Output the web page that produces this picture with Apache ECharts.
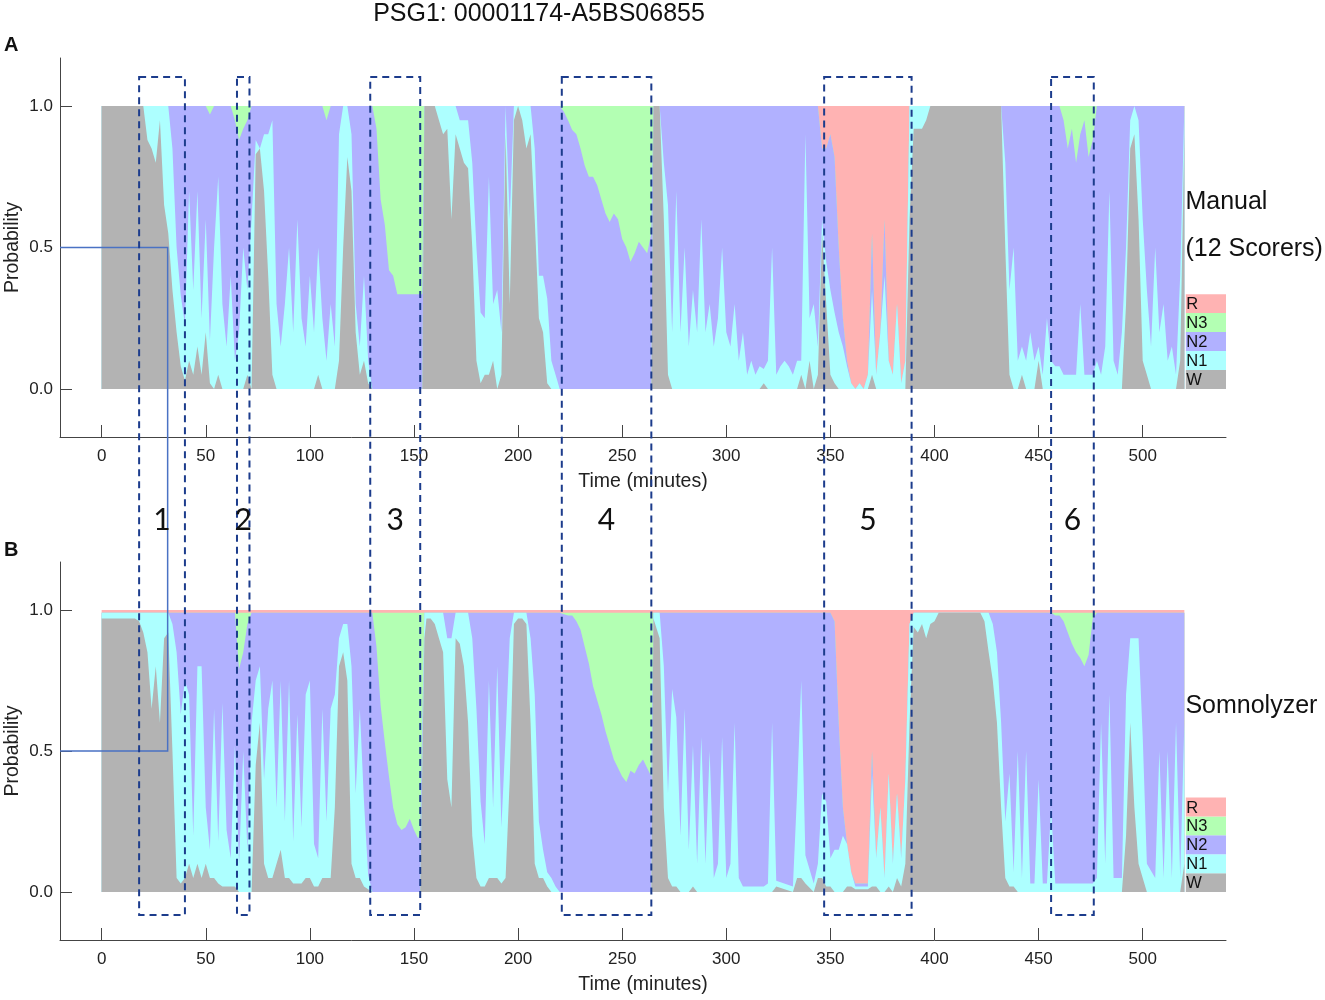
<!DOCTYPE html>
<html>
<head>
<meta charset="utf-8">
<title>PSG1 hypnodensity</title>
<script src="https://cdn.jsdelivr.net/npm/echarts@6/dist/echarts.min.js"></script>
<style>
  html, body { margin: 0; padding: 0; background: #fff; }
  #chart { width: 1325px; height: 1000px; }
</style>
</head>
<body>
<div id="chart"></div>
<script>
var font = 'Liberation Sans, Arial, sans-serif';

// sleep stages, bottom to top of the stack
var stages = ['W', 'N1', 'N2', 'N3', 'R'];
var stageColors = ['#b3b3b3', '#adffff', '#b1b1ff', '#b3ffb3', '#ffb3b3'];

var timeTicks = [0, 50, 100, 150, 200, 250, 300, 350, 400, 450, 500];
var probTicks = [0, 0.5, 1];

// ---- A: manual scoring (12 scorers), probability per stage ----
var timesA = [
  0,20,22,24,26,28,30,32,34,36,
  38,40,42,44,46,48,50,52,54,56,
  58,60,62,64,66,68,70,72,74,76,
  78,80,82,84,86,88,90,92,94,96,
  98,100,102,104,106,108,110,112,114,116,
  118,120,122,124,126,128,130,132,134,136,
  138,140,142,154,155,160,162,164,166,168,
  170,172,174,176,178,180,182,184,186,188,
  190,192,194,196,198,200,202,204,206,208,
  210,212,214,216,218,220,222,224,226,228,
  230,232,234,236,238,240,242,244,246,248,
  250,252,254,256,258,260,262,264,265,268,
  270,272,274,276,278,280,282,284,286,288,
  290,292,294,296,298,300,302,304,306,308,
  310,312,314,316,318,320,322,324,326,328,
  330,332,334,336,338,340,342,344,346,348,
  350,352,354,356,358,360,362,364,366,368,
  370,372,374,376,378,380,382,384,386,388,
  390,394,396,398,432,434,436,438,440,442,
  444,446,448,450,452,454,456,458,460,462,
  464,466,468,470,472,474,476,478,480,482,
  484,486,488,490,492,494,496,498,500,502,
  504,506,508,510,512,514,516,518,520
];
var wA = [
  1,1,.88,.85,.8,.95,.65,.55,.35,.2,
  .08,.03,.1,.05,.15,.05,.2,.02,0,.05,
  0,0,0,0,0,0,.05,0,.83,.85,
  .7,.4,.05,0,0,0,0,0,0,0,
  0,0,0,.05,0,0,0,0,.1,.5,
  .82,.7,.2,.05,.1,.02,0,0,0,0,
  0,0,0,0,1,1,.95,.9,.92,.6,
  .9,.85,.8,.78,.5,.1,.02,.05,.05,.1,
  0,.05,.9,.3,.95,1,.95,.85,.9,.6,
  .25,.2,.02,0,0,0,0,0,0,0,
  0,0,0,0,0,0,0,0,0,0,
  0,0,0,0,0,0,0,0,1,1,
  .6,.05,0,0,0,0,0,0,0,0,
  0,0,0,0,0,0,0,0,0,0,
  0,0,0,0,.02,0,0,0,0,0,
  0,0,0,.05,0,.1,0,.05,.55,.3,
  .05,.02,0,0,0,0,0,0,0,0,
  .05,0,0,0,0,0,0,0,0,.6,
  .92,.92,.95,1,1,.5,.05,0,0,.05,
  0,0,0,.1,0,0,0,0,0,0,
  0,0,0,0,0,0,0,0,0,0,
  0,0,0,0,.3,.85,.9,.6,.1,.05,
  0,0,0,0,0,0,0,.1,.9
];
var n1A = [
  0,0,.12,.15,.2,.05,.35,.45,.5,.3,
  .25,.2,.6,.3,.55,.2,.4,.15,.5,.7,
  .3,.15,.4,.1,.2,.5,.3,.6,.05,0,
  .2,.5,.9,.3,.15,.3,.5,.2,.6,.25,
  .15,.4,.2,.45,.25,.1,.3,.15,.8,.5,
  .18,.2,.1,.1,.3,.08,0,0,0,0,
  0,0,0,0,0,0,.05,.1,.08,.4,
  .1,.1,.15,.17,.3,.4,.25,.2,.7,.2,
  .35,.15,.1,.3,.05,0,.05,.15,.1,.25,
  .15,.2,.3,.1,.05,0,0,0,0,0,
  0,0,0,0,0,0,0,0,0,0,
  0,0,0,0,0,0,0,0,0,0,
  .2,.6,.2,.7,.2,.5,.15,.35,.2,.6,
  .2,.3,.15,.25,.5,.2,.15,.3,.1,.2,
  .05,.1,.05,.08,.05,.1,.5,.05,.08,.1,
  .08,.05,.1,.05,.9,.15,.3,.1,.05,.15,
  .3,.25,.2,.15,.08,.02,0,.02,0,.05,
  .3,.05,.2,.4,.1,.05,.3,.02,.1,.4,
  .08,.08,.05,0,0,.3,.3,.5,.1,.1,
  .1,.2,.1,.05,.05,.25,.1,.08,.08,.05,
  .05,.05,.05,.3,.05,.05,.05,.1,.05,.15,
  .7,.1,.05,.2,.2,.1,.1,.35,.5,.3,
  .15,.5,.2,.3,.1,.15,.05,.3,.1
];
var n2A = [
  0,0,0,0,0,0,0,0,.15,.5,
  .67,.77,.3,.65,.3,.75,.4,.8,.5,.25,
  .7,.85,.6,.85,.68,.42,.6,.4,.12,.15,
  .1,.1,.05,.7,.85,.7,.5,.8,.4,.75,
  .85,.6,.8,.5,.75,.85,.7,.85,.1,0,
  0,.1,.7,.85,.6,.9,1,.92,.67,.58,
  .42,.4,.335,.335,0,0,0,0,0,0,
  0,.05,.05,.05,.2,.5,.73,.75,.25,.7,
  .65,.8,0,.4,0,0,0,0,0,.15,
  .6,.6,.68,.9,.95,1,.98,.95,.915,.9,
  .85,.79,.75,.75,.72,.67,.62,.59,.62,.6,
  .53,.5,.45,.48,.52,.5,.48,.55,0,0,
  .2,.35,.8,.3,.8,.5,.85,.65,.8,.4,
  .8,.7,.85,.75,.5,.8,.85,.7,.9,.8,
  .95,.9,.95,.92,.93,.9,.5,.95,.92,.9,
  .92,.95,.9,.9,.1,.75,.7,.85,.25,.4,
  .55,.55,.3,.1,.02,0,0,0,0,0,
  .2,0,0,.2,0,0,0,0,0,0,
  0,0,0,0,0,.2,.65,.5,.9,.85,
  .9,.8,.9,.85,.95,.75,.9,.92,.92,.9,
  .8,.87,.75,.6,.9,.77,.83,.9,.95,.85,
  .3,.9,.95,.8,.5,.05,0,.05,.4,.65,
  .85,.5,.8,.7,.9,.85,.95,.6,0
];
var n3A = [
  0,0,0,0,0,0,0,0,0,0,
  0,0,0,0,0,0,0,.03,0,0,
  0,0,0,.05,.12,.08,.05,0,0,0,
  0,0,0,0,0,0,0,0,0,0,
  0,0,0,0,0,.05,0,0,0,0,
  0,0,0,0,0,0,0,.08,.33,.42,
  .58,.6,.665,.665,0,0,0,0,0,0,
  0,0,0,0,0,0,0,0,0,0,
  0,0,0,0,0,0,0,0,0,0,
  0,0,0,0,0,0,.02,.05,.085,.1,
  .15,.21,.25,.25,.28,.33,.38,.41,.38,.4,
  .47,.5,.55,.52,.48,.5,.52,.45,0,0,
  0,0,0,0,0,0,0,0,0,0,
  0,0,0,0,0,0,0,0,0,0,
  0,0,0,0,0,0,0,0,0,0,
  0,0,0,0,0,0,0,0,0,0,
  0,0,0,0,0,0,0,0,0,0,
  0,0,0,0,0,0,0,0,0,0,
  0,0,0,0,0,0,0,0,0,0,
  0,0,0,0,0,0,0,0,0,.05,
  .15,.08,.2,.1,.05,.18,.12,0,0,0,
  0,0,0,0,0,0,0,0,0,0,
  0,0,0,0,0,0,0,0,0
];
var rA = [
  0,0,0,0,0,0,0,0,0,0,
  0,0,0,0,0,0,0,0,0,0,
  0,0,0,0,0,0,0,0,0,0,
  0,0,0,0,0,0,0,0,0,0,
  0,0,0,0,0,0,0,0,0,0,
  0,0,0,0,0,0,0,0,0,0,
  0,0,0,0,0,0,0,0,0,0,
  0,0,0,0,0,0,0,0,0,0,
  0,0,0,0,0,0,0,0,0,0,
  0,0,0,0,0,0,0,0,0,0,
  0,0,0,0,0,0,0,0,0,0,
  0,0,0,0,0,0,0,0,0,0,
  0,0,0,0,0,0,0,0,0,0,
  0,0,0,0,0,0,0,0,0,0,
  0,0,0,0,0,0,0,0,0,0,
  0,0,0,0,0,0,0,0,.15,.15,
  .1,.18,.5,.75,.9,.98,1,.98,1,.95,
  .45,.95,.8,.4,.9,.95,.7,.98,.9,0,
  0,0,0,0,0,0,0,0,0,0,
  0,0,0,0,0,0,0,0,0,0,
  0,0,0,0,0,0,0,0,0,0,
  0,0,0,0,0,0,0,0,0,0,
  0,0,0,0,0,0,0,0,0
];

// ---- B: Somnolyzer, probability per stage ----
var timesB = [
  0,16,18,20,22,24,26,28,30,32,
  34,36,38,40,42,44,46,48,50,52,
  54,56,58,60,62,64,66,68,70,72,
  74,76,78,80,82,84,86,88,90,92,
  94,96,98,100,102,104,106,108,110,112,
  114,116,118,120,122,124,126,128,130,132,
  134,136,138,140,142,144,146,148,150,152,
  153,155,156,158,160,162,164,166,168,170,
  172,174,176,178,180,182,184,186,188,190,
  192,194,196,198,200,202,204,206,208,210,
  212,214,216,218,220,222,224,226,228,230,
  232,234,236,238,240,242,244,246,248,250,
  252,254,256,258,260,262,264,265,268,270,
  272,274,276,278,280,282,284,286,288,290,
  292,294,296,298,300,302,304,306,308,318,
  320,322,324,332,334,336,338,342,344,346,
  348,350,352,354,356,358,360,362,368,370,
  372,374,376,378,380,382,384,386,388,390,
  392,394,396,398,400,402,422,424,426,428,
  430,432,434,436,438,440,442,444,446,448,
  450,452,454,456,458,460,462,464,466,468,
  470,472,474,476,478,480,482,484,486,490,
  492,494,496,498,500,502,506,508,510,512,
  514,516,518,520
];
var wB = [
  .97,.97,.96,.92,.85,.65,.8,.6,.9,.92,
  .5,.05,.03,.05,.1,.05,.1,.05,.1,.05,
  .05,.03,.02,.02,.02,.02,0,0,0,0,
  .45,.6,.1,.05,.05,.1,.15,.05,.05,.03,
  .03,.03,.05,.05,.02,.02,.05,.05,.05,.3,
  .8,.85,.75,.1,.05,.05,.02,.01,0,0,
  0,0,0,0,0,0,0,0,0,0,
  0,.9,.97,.97,.95,.9,.85,.4,.3,.9,
  .88,.8,.6,.2,.05,.02,.02,.05,.05,.05,
  .03,.05,.4,.95,.97,.97,.95,.6,.1,.05,
  .05,.02,0,0,0,0,0,0,0,0,
  0,0,0,0,0,0,0,0,0,0,
  0,0,0,0,0,0,0,.97,.9,.3,
  .05,.02,.02,0,0,0,.02,0,0,0,
  0,0,0,0,0,0,0,0,0,0,
  0,0,.02,0,.05,.05,.03,0,.05,.05,
  .02,.02,0,0,0,.02,.02,.01,.01,.02,
  .02,0,0,.02,0,.05,.02,.1,.6,.94,
  .92,.95,.9,.95,.96,.99,.99,.96,.85,.75,
  .6,.3,.05,.02,.02,0,0,0,0,0,
  0,0,0,0,0,0,0,0,0,0,
  0,0,0,0,0,0,0,0,0,0,
  .2,.6,.3,.1,.05,0,0,0,0,0,
  0,0,0,.1
];
var n1B = [
  .02,.02,.03,.07,.14,.34,.19,.39,.09,.07,
  .45,.8,.6,.7,.6,.15,.7,.75,.2,.1,
  .6,.15,.65,.2,.1,.5,.1,.5,.15,.6,
  .3,.2,.3,.6,.7,.2,.6,.2,.7,.15,
  .6,.2,.65,.7,.15,.1,.6,.2,.6,.4,
  .1,.1,.2,.7,.3,.6,.3,.05,0,0,
  0,0,0,0,0,0,0,0,0,0,
  0,.09,.02,.02,.04,.09,.14,.5,.6,.09,
  .11,.19,.39,.7,.6,.3,.15,.7,.25,.75,
  .2,.5,.5,.04,.02,.02,.04,.3,.6,.2,
  .1,.05,.05,.02,0,0,0,0,0,0,
  0,0,0,0,0,0,0,0,0,0,
  0,0,0,0,0,0,0,.02,.09,.5,
  .3,.7,.6,.2,.65,.15,.5,.1,.55,.1,
  .5,.05,.1,.55,.05,.1,.6,.05,.02,.02,
  .03,.6,.02,.02,.3,.7,.1,.03,.05,.3,
  .3,.1,.15,.15,.2,.15,.05,.01,.01,.4,
  .1,.3,.05,.4,.1,.3,.1,.3,.35,.05,
  .07,.04,.09,.04,.03,0,0,.03,.14,.2,
  .25,.3,.2,.4,.05,.5,.05,.5,.03,.03,
  .4,.03,.03,.3,.03,.03,.03,.03,.03,.03,
  .03,.03,.03,.03,.05,.6,.1,.7,.05,.05,
  .5,.3,.6,.8,.5,.1,.05,.5,.05,.5,
  .05,.6,.05,.5
];
var n2B = [
  0,0,0,0,0,0,0,0,0,0,
  .04,.14,.36,.24,.29,.79,.19,.19,.69,.84,
  .34,.81,.32,.77,.87,.47,.69,.35,.8,.39,
  .24,.19,.59,.34,.24,.69,.24,.74,.24,.81,
  .36,.76,.29,.24,.82,.87,.34,.74,.34,.29,
  .09,.04,.04,.19,.64,.34,.67,.93,.99,.87,
  .66,.53,.41,.3,.24,.22,.23,.26,.22,.19,
  .21,0,0,0,0,0,0,.09,.09,0,
  0,0,0,.09,.34,.67,.82,.24,.69,.19,
  .76,.44,.09,0,0,0,0,.09,.29,.74,
  .84,.92,.94,.97,.99,.985,.98,.98,.96,.93,
  .87,.81,.73,.68,.63,.57,.52,.47,.44,.41,
  .39,.43,.42,.45,.47,.44,.41,0,0,.19,
  .64,.27,.37,.79,.34,.84,.47,.89,.44,.89,
  .49,.94,.89,.44,.94,.89,.39,.94,.97,.97,
  .96,.39,.95,.97,.64,.24,.86,.96,.89,.64,
  .67,.87,.81,.45,.1,0,0,.01,.01,.08,
  0,0,0,0,0,0,0,0,0,0,
  0,0,0,0,0,0,0,0,0,.04,
  .14,.39,.74,.57,.92,.49,.94,.49,.96,.96,
  .59,.96,.96,.69,.95,.95,.93,.89,.85,.82,
  .8,.77,.81,.94,.94,.39,.89,.29,.94,.94,
  .29,.09,.09,.09,.44,.89,.94,.49,.94,.49,
  .94,.39,.94,.39
];
var n3B = [
  0,0,0,0,0,0,0,0,0,0,
  0,0,0,0,0,0,0,0,0,0,
  0,0,0,0,0,0,.2,.14,.04,0,
  0,0,0,0,0,0,0,0,0,0,
  0,0,0,0,0,0,0,0,0,0,
  0,0,0,0,0,0,0,0,0,.12,
  .33,.46,.58,.69,.75,.77,.76,.73,.77,.8,
  .78,0,0,0,0,0,0,0,0,0,
  0,0,0,0,0,0,0,0,0,0,
  0,0,0,0,0,0,0,0,0,0,
  0,0,0,0,0,.005,.01,.01,.03,.06,
  .12,.18,.26,.31,.36,.42,.47,.52,.55,.58,
  .6,.56,.57,.54,.52,.55,.58,0,0,0,
  0,0,0,0,0,0,0,0,0,0,
  0,0,0,0,0,0,0,0,0,0,
  0,0,0,0,0,0,0,0,0,0,
  0,0,0,0,0,0,0,0,0,0,
  0,0,0,0,0,0,0,0,0,0,
  0,0,0,0,0,0,0,0,0,0,
  0,0,0,0,0,0,0,0,0,0,
  0,0,0,0,.01,.01,.03,.07,.11,.14,
  .16,.19,.15,.02,0,0,0,0,0,0,
  0,0,0,0,0,0,0,0,0,0,
  0,0,0,0
];
var rB = [
  .01,.01,.01,.01,.01,.01,.01,.01,.01,.01,
  .01,.01,.01,.01,.01,.01,.01,.01,.01,.01,
  .01,.01,.01,.01,.01,.01,.01,.01,.01,.01,
  .01,.01,.01,.01,.01,.01,.01,.01,.01,.01,
  .01,.01,.01,.01,.01,.01,.01,.01,.01,.01,
  .01,.01,.01,.01,.01,.01,.01,.01,.01,.01,
  .01,.01,.01,.01,.01,.01,.01,.01,.01,.01,
  .01,.01,.01,.01,.01,.01,.01,.01,.01,.01,
  .01,.01,.01,.01,.01,.01,.01,.01,.01,.01,
  .01,.01,.01,.01,.01,.01,.01,.01,.01,.01,
  .01,.01,.01,.01,.01,.01,.01,.01,.01,.01,
  .01,.01,.01,.01,.01,.01,.01,.01,.01,.01,
  .01,.01,.01,.01,.01,.01,.01,.01,.01,.01,
  .01,.01,.01,.01,.01,.01,.01,.01,.01,.01,
  .01,.01,.01,.01,.01,.01,.01,.01,.01,.01,
  .01,.01,.01,.01,.01,.01,.01,.01,.01,.01,
  .01,.01,.04,.4,.7,.83,.93,.97,.97,.5,
  .88,.7,.95,.58,.9,.65,.88,.6,.05,.01,
  .01,.01,.01,.01,.01,.01,.01,.01,.01,.01,
  .01,.01,.01,.01,.01,.01,.01,.01,.01,.01,
  .01,.01,.01,.01,.01,.01,.01,.01,.01,.01,
  .01,.01,.01,.01,.01,.01,.01,.01,.01,.01,
  .01,.01,.01,.01,.01,.01,.01,.01,.01,.01,
  .01,.01,.01,.01
];

// highlighted epochs (minutes) and the reference line at 0.5
var boxStart = [18, 65, 129, 221, 347, 456];
var boxEnd = [40, 71, 153, 264, 389, 476.5];
var boxNames = ['1', '2', '3', '4', '5', '6'];
var markTime = 31.7;

var myChart = echarts.init(document.getElementById('chart'));

// both axes are value axes, so the stack is built here:
// each stage is drawn as its cumulative top, top stage first, W last
function stageSeries(panel, times, cols) {
    var cum = times.map(function() { return 0; });
    var tops = cols.map(function(vals) {
        cum = cum.map(function(c, i) { return c + vals[i]; });
        return cum.slice();
    });
    var list = [];
    for (var k = cols.length - 1; k >= 0; k--) {
        list.push({
            name: stages[k],
            type: 'line',
            xAxisIndex: panel,
            yAxisIndex: panel,
            data: times.map(function(t, i) { return [t, tops[k][i]]; }),
            symbol: 'none',
            silent: true,
            lineStyle: { width: 0 },
            itemStyle: { color: stageColors[k] },
            areaStyle: { color: stageColors[k], opacity: 1, origin: 0 }
        });
    }
    return list;
}

function xAxisFor(i) {
    return {
        type: 'value',
        gridIndex: i,
        min: -20,
        max: 540,
        name: 'Time (minutes)',
        nameLocation: 'middle',
        nameGap: 35,
        nameTextStyle: { fontSize: 19.5, color: '#222', fontFamily: font },
        axisLine: { onZero: false, lineStyle: { color: '#444', width: 1 } },
        axisTick: { inside: true, length: 12, customValues: timeTicks, lineStyle: { color: '#444' } },
        axisLabel: { customValues: timeTicks, margin: 11, fontSize: 17, color: '#222', fontFamily: font },
        splitLine: { show: false }
    };
}

function yAxisFor(i) {
    return {
        type: 'value',
        gridIndex: i,
        min: -0.17,
        max: 1.17,
        axisLine: { show: true, onZero: false, lineStyle: { color: '#444', width: 1 } },
        axisTick: { show: true, inside: true, length: 12, customValues: probTicks, lineStyle: { color: '#444' } },
        axisLabel: {
            customValues: probTicks,
            margin: 7,
            fontSize: 17,
            color: '#222',
            fontFamily: font,
            formatter: function(v) { return v.toFixed(1); }
        },
        splitLine: { show: false }
    };
}

var option = {
    animation: false,
    backgroundColor: '#fff',
    grid: [
        { left: 60, top: 58, width: 1166, height: 379, outerBoundsMode: 'none', containLabel: false },
        { left: 60, top: 562, width: 1166, height: 378, outerBoundsMode: 'none', containLabel: false }
    ],
    xAxis: [xAxisFor(0), xAxisFor(1)],
    yAxis: [yAxisFor(0), yAxisFor(1)],
    series: stageSeries(0, timesA, [wA, n1A, n2A, n3A, rA])
        .concat(stageSeries(1, timesB, [wB, n1B, n2B, n3B, rB]))
};
myChart.setOption(option);

// annotations placed through the axes
function px(panel, t, v) {
    return myChart.convertToPixel({ gridIndex: panel }, [t, v]);
}

var graphics = [];
var navy = '#1c3c8c';

// dashed boxes spanning both panels, with their numbers
boxStart.forEach(function(t0, i) {
    var p0 = px(0, t0, 1.1025);
    var p1 = px(1, boxEnd[i], -0.081);
    graphics.push({
        type: 'rect', z: 100, silent: true,
        shape: { x: p0[0], y: p0[1], width: p1[0] - p0[0], height: p1[1] - p0[1] },
        style: { fill: 'none', stroke: navy, lineWidth: 2, lineDash: [7, 5] }
    });
    var pl = px(1, (t0 + boxEnd[i]) / 2, 1.318);
    graphics.push({
        type: 'text', z: 101, silent: true, x: pl[0], y: pl[1],
        style: { text: boxNames[i], fontSize: 30, fill: '#111', fontFamily: 'Lato, ' + font, align: 'center', verticalAlign: 'middle' }
    });
});

// blue marker line at probability 0.5
var a0 = px(0, -20, 0.5), a1 = px(0, markTime, 0.5);
var b1 = px(1, markTime, 0.5), b0 = px(1, -20, 0.5);
graphics.push({
    type: 'polyline', z: 99, silent: true,
    shape: { points: [a0, a1, b1, b0] },
    style: { stroke: '#4a72c4', lineWidth: 1.5, fill: null }
});

// stage legend cells, y-axis titles and panel captions
[0, 1].forEach(function(panel) {
    var cell = 0.067;
    stages.forEach(function(s, k) {
        var top = px(panel, 520.7, cell * (k + 1));
        var bot = px(panel, 540, cell * k);
        graphics.push({
            type: 'rect', z: 102, silent: true,
            shape: { x: top[0], y: top[1], width: bot[0] - top[0], height: bot[1] - top[1] },
            style: { fill: stageColors[k] }
        });
        graphics.push({
            type: 'text', z: 103, silent: true, x: top[0] + 0.5, y: (top[1] + bot[1]) / 2 + 1,
            style: { text: s, fontSize: 16.5, fill: '#111', fontFamily: font, align: 'left', verticalAlign: 'middle' }
        });
    });
    var mid = px(panel, -20, 0.5);
    graphics.push({
        type: 'text', z: 103, silent: true, x: 13, y: mid[1], rotation: Math.PI / 2,
        style: { text: 'Probability', fontSize: 19.5, fill: '#222', fontFamily: font, align: 'center', verticalAlign: 'middle' }
    });
});

var captions = [
    [0, 0.66, 'Manual'],
    [0, 0.495, '(12 Scorers)'],
    [1, 0.66, 'Somnolyzer']
];
captions.forEach(function(c) {
    var p = px(c[0], 520.5, c[1]);
    graphics.push({
        type: 'text', z: 103, silent: true, x: p[0], y: p[1],
        style: { text: c[2], fontSize: 25, fill: '#111', fontFamily: font, align: 'left', verticalAlign: 'middle' }
    });
});

// title and panel letters
graphics.push({
    type: 'text', z: 103, silent: true, x: 539, y: 14,
    style: { text: 'PSG1: 00001174-A5BS06855', fontSize: 25, fill: '#111', fontFamily: font, align: 'center', verticalAlign: 'middle' }
});
graphics.push({
    type: 'text', z: 103, silent: true, x: 4, y: 45,
    style: { text: 'A', fontSize: 20, fontWeight: 'bold', fill: '#111', fontFamily: font, align: 'left', verticalAlign: 'middle' }
});
graphics.push({
    type: 'text', z: 103, silent: true, x: 4, y: 550,
    style: { text: 'B', fontSize: 20, fontWeight: 'bold', fill: '#111', fontFamily: font, align: 'left', verticalAlign: 'middle' }
});

myChart.setOption({ graphic: graphics });
</script>
</body>
</html>
